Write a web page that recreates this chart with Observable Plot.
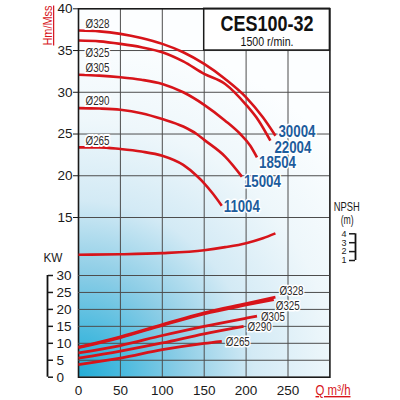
<!DOCTYPE html>
<html>
<head>
<meta charset="utf-8">
<script src="https://cdn.jsdelivr.net/npm/d3@7"></script>
<script src="https://cdn.jsdelivr.net/npm/@observablehq/plot@0.6"></script>
<style>
  html, body { margin: 0; padding: 0; background: #fff; }
  #chart { position: relative; width: 400px; height: 400px; overflow: hidden; }
  #chart svg { position: absolute; left: 0; top: 0; }
</style>
</head>
<body>
<div id="chart"></div>
<script>
// ---------- data ----------
const xTicks = [0, 50, 100, 150, 200, 250];
const headTicks = [15, 20, 25, 30, 35, 40];
const kwTicks = [0, 5, 10, 15, 20, 25, 30];
const npshTicks = [1, 2, 3, 4];
const diameters = ["Ø328", "Ø325", "Ø305", "Ø290", "Ø265"];
const models = ["30004", "22004", "18504", "15004", "11004"];
const title = "CES100-32";
const subtitle = "1500 r/min.";

// head curves [Q m3/h, H m]
const head328 = [[0,37.4],[25,37.3],[50,37.0],[75,36.5],[100,35.8],[125,34.8],[150,33.4],[175,31.6],[200,29.4],[220,27.0],[235,24.8]];
const head325 = [[0,36.2],[25,36.1],[50,35.8],[75,35.4],[100,34.8],[125,33.7],[150,32.2],[175,31.0],[200,28.5],[215,26.6],[229,24.2]];
const head305 = [[0,32.1],[25,32.0],[50,31.8],[75,31.5],[100,31.0],[125,30.0],[150,28.5],[175,26.6],[193,25.0],[205,23.6],[213,22.2]];
const head290 = [[0,28.1],[25,28.05],[50,27.9],[75,27.5],[100,26.8],[125,25.9],[141,25.0],[150,24.3],[175,22.3],[195,19.9]];
const head265 = [[0,23.4],[25,23.4],[50,23.2],[75,22.9],[100,22.4],[125,21.3],[141,20.0],[150,19.1],[160,17.9],[171,16.4]];

// power curves [Q m3/h, kW]
const power328 = [[0,8.85],[50,11.9],[100,15.5],[150,19.0],[200,21.7],[235,23.6]];
const power325 = [[0,8.7],[50,11.7],[100,15.3],[150,18.7],[200,21.3],[233,22.9]];
const power305 = [[0,7.2],[50,9.35],[100,12.3],[150,15.0],[200,17.4],[213,18.0]];
const power290 = [[0,5.6],[50,7.7],[100,10.1],[150,12.8],[197,15.0]];
const power265 = [[0,3.7],[50,5.6],[100,8.1],[150,10.0],[171,10.6]];

// NPSH curve [Q m3/h, m]
const npshCurve = [[0,1.65],[50,1.7],[100,1.83],[150,2.15],[175,2.5],[200,2.95],[220,3.5],[235,4.05]];

// ---------- derived tables ----------
const headSeries = [head328, head325, head305, head290, head265];
const powerSeries = [power328, power325, power305, power290, power265];
const headRows = headSeries.flatMap((pts, i) => pts.map(([q, h]) => ({d: diameters[i], q, h})));
const headStarts = headSeries.map((pts, i) => ({d: diameters[i], i, q: pts[0][0], h: pts[0][1]}));
const headEnds = headSeries.map((pts, i) => ({m: models[i], i, q: pts[pts.length-1][0], h: pts[pts.length-1][1]}));
const powerRows = powerSeries.flatMap((pts, i) => pts.map(([q, p]) => ({d: diameters[i], q, p})));
const powerEnds = powerSeries.map((pts, i) => ({d: diameters[i], i, q: pts[pts.length-1][0], p: pts[pts.length-1][1]}));
const npshRows = npshCurve.map(([q, n]) => ({q, n}));

// ---------- styles ----------
const RED = "#d7141a";
const BLUE = "#1d5c9c";
const GRID = "#4d4d4d";
const FONT = "'Liberation Sans Narrow', 'Arial Narrow', 'Liberation Sans', Arial, sans-serif";
const baseStyle = {fontFamily: FONT, fontSize: "13px", color: "#1a1a1a", background: "transparent", overflow: "visible"};
const M = {marginLeft: 78, marginRight: 70.6, marginTop: 8.3, marginBottom: 23.3};
const lineOpts = {stroke: RED, strokeWidth: 2.6, curve: "monotone-x", strokeLinecap: "butt"};
const modelDy = [-4, 7.5, 5, 5, 1];      // label offsets (style)
const modelDx = [3, 4, 2, 2, 2];
const diamLabel = {textAnchor: "start", fill: "#2a2a2a", fontSize: 13, stroke: "white", strokeWidth: 4};
const powerLabel = {...diamLabel, fontSize: 12, strokeWidth: 3};
// condensed look: target text widths in px (the narrow face is not installed)
const condensed = {"Hm/Mss": 40, "Q m³/h": 35, "CES100-32": 93, "1500 r/min.": 53, "NPSH": 26, "(m)": 13, "KW": 19,
  "30004": 37, "22004": 37, "18504": 37, "15004": 37, "11004": 36,
  "Ø328": 24, "Ø325": 24, "Ø305": 24, "Ø290": 24, "Ø265": 24};

// background gradient as a custom render mark
const background = (index, scales, values, dims) => {
  const {width, height, marginLeft, marginRight, marginTop, marginBottom} = dims;
  const g = d3.create("svg:g");
  const grad = g.append("defs").append("radialGradient")
    .attr("id", "bgGrad").attr("gradientUnits", "userSpaceOnUse")
    .attr("cx", marginLeft).attr("cy", height - marginBottom).attr("r", 345);
  [[0, "#22acd6"], [0.12, "#47b9de"], [0.3, "#8ccde6"], [0.51, "#d3eaf5"], [0.74, "#eef7fb"], [1, "#fcfeff"]]
    .forEach(([o, c]) => grad.append("stop").attr("offset", o).attr("stop-color", c));
  g.append("rect")
    .attr("x", marginLeft).attr("y", marginTop)
    .attr("width", width - marginLeft - marginRight)
    .attr("height", height - marginTop - marginBottom)
    .attr("fill", "url(#bgGrad)");
  return g.node();
};

// ---------- main (head) plot ----------
const main = Plot.plot({
  width: 400, height: 400, ...M,
  style: {...baseStyle, background: "white"},
  x: {domain: [0, 300]},
  y: {domain: [15, 40], range: [217, 8.3]},
  marks: [
    background,
    Plot.ruleX(xTicks.filter(d => d > 0), {stroke: GRID, strokeWidth: 1}),
    Plot.ruleY(headTicks.filter(d => d < 40), {stroke: GRID, strokeWidth: 1}),
    Plot.line(headRows, {x: "q", y: "h", z: "d", ...lineOpts}),
    Plot.text(headStarts.filter(d => d.i !== 1), {x: "q", y: "h", text: "d", dx: 7, dy: -7, ...diamLabel}),
    Plot.text(headStarts.filter(d => d.i === 1), {x: "q", y: "h", text: "d", dx: 7, dy: 12, ...diamLabel}),
    ...headEnds.map((e, k) => Plot.text([e], {x: "q", y: "h", text: "m", dx: modelDx[k], dy: modelDy[k], textAnchor: "start", fill: BLUE, fontSize: 16, fontWeight: "bold", stroke: "white", strokeWidth: 3})),
    Plot.rect([title], {x1: 150, x2: 300, y1: 35, y2: 40, fill: "white", stroke: "#1a1a1a", strokeWidth: 1.5}),
    Plot.text([title], {x: 225, y: 40, dy: 15, text: d => d, fontSize: 22, fontWeight: "bold", fill: "#111"}),
    Plot.text([subtitle], {x: 225, y: 40, dy: 33, text: d => d, fontSize: 12, fill: "#111"}),
    Plot.axisX(xTicks, {tickSize: 0, tickPadding: 8, fontSize: 13.5, label: null, fill: "#1a1a1a"}),
    Plot.axisY(headTicks, {tickSize: 5, tickPadding: 1, fontSize: 13.5, label: null, fill: "#1a1a1a"}),
    Plot.text(["Hm/Mss"], {y: () => 35.6, frameAnchor: "left", dx: -30.3, rotate: -90, textAnchor: "start", lineAnchor: "middle", text: d => d, fill: RED, fontSize: 12}),
    Plot.text(["Q m³/h"], {frameAnchor: "bottom-right", dx: -14.4, dy: 13.3, textAnchor: "start", lineAnchor: "middle", text: d => d, fill: RED, fontSize: 14}),
    Plot.frame({stroke: "#1a1a1a", strokeWidth: 1.6})
  ]
});

// ---------- power (kW) overlay ----------
const power = Plot.plot({
  width: 400, height: 400, ...M,
  style: baseStyle,
  x: {domain: [0, 300], axis: null},
  y: {domain: [0, 30], range: [376.7, 275], axis: null},
  marks: [
    Plot.ruleY(kwTicks.filter(d => d > 0), {stroke: GRID, strokeWidth: 1}),
    Plot.line(powerRows, {x: "q", y: "p", z: "d", ...lineOpts, strokeWidth: 2.8}),
    Plot.text(powerEnds.filter(d => d.i === 0), {x: "q", y: "p", text: "d", dx: 4, dy: -6, ...powerLabel}),
    Plot.text(powerEnds.filter(d => d.i === 1), {x: "q", y: "p", text: "d", dx: 2, dy: 7, ...powerLabel}),
    Plot.text(powerEnds.filter(d => d.i > 1), {x: "q", y: "p", text: "d", dx: 4, dy: 1, ...powerLabel})
  ]
});

// ---------- kW axis (bracket at left) ----------
const kwAxis = Plot.plot({
  width: 400, height: 400,
  marginLeft: 0, marginRight: 353, marginTop: 275, marginBottom: 23.3,
  style: baseStyle,
  x: {domain: [0, 1], axis: null},
  y: {domain: [0, 30], axis: null},
  marks: [
    Plot.ruleX([1], {y1: 0, y2: 30, stroke: "#111", strokeWidth: 1.8}),
    Plot.axisY(kwTicks, {anchor: "right", tickSize: 5, tickPadding: 4, fontSize: 13.5, label: null, fill: "#1a1a1a", strokeWidth: 1.5}),
    Plot.text(["KW"], {frameAnchor: "top-right", dx: 5.5, dy: -17.5, textAnchor: "middle", lineAnchor: "middle", text: d => d, fontSize: 13.5, fill: "#1a1a1a"})
  ]
});

// ---------- NPSH curve overlay ----------
const npsh = Plot.plot({
  width: 400, height: 400, ...M,
  style: baseStyle,
  x: {domain: [0, 300], axis: null},
  y: {domain: [1, 4], range: [260, 233.3], axis: null},
  marks: [
    Plot.line(npshRows, {x: "q", y: "n", ...lineOpts})
  ]
});

// ---------- NPSH axis (bracket at right) ----------
const npshAxis = Plot.plot({
  width: 400, height: 400,
  marginLeft: 355, marginRight: 20, marginTop: 233.3, marginBottom: 140,
  style: baseStyle,
  x: {domain: [0, 1], axis: null},
  y: {domain: [1, 4], axis: null},
  marks: [
    Plot.ruleX([0], {y1: 1, y2: 4, stroke: "#111", strokeWidth: 1.8}),
    Plot.axisY(npshTicks, {anchor: "left", tickSize: 6, tickPadding: 3, fontSize: 9, label: null, fill: "#1a1a1a", strokeWidth: 1.5}),
    Plot.text(["NPSH"], {frameAnchor: "top-left", dx: -8.7, dy: -27, textAnchor: "middle", lineAnchor: "middle", text: d => d, fontSize: 12, fill: "#1a1a1a"}),
    Plot.text(["(m)"], {frameAnchor: "top-left", dx: -8.3, dy: -14, textAnchor: "middle", lineAnchor: "middle", text: d => d, fontSize: 12, fill: "#1a1a1a"})
  ]
});

const chart = document.getElementById("chart");
[main, power, npsh, kwAxis, npshAxis].forEach(svg => chart.appendChild(svg));

// underline the red axis titles, and condense selected labels
d3.select(chart).selectAll("text").each(function() {
  const t = this.textContent;
  if (t === "Hm/Mss" || t === "Q m³/h") this.setAttribute("text-decoration", "underline");
  if (condensed[t]) {
    this.setAttribute("textLength", condensed[t]);
    this.setAttribute("lengthAdjust", "spacingAndGlyphs");
  }
});
</script>
</body>
</html>
